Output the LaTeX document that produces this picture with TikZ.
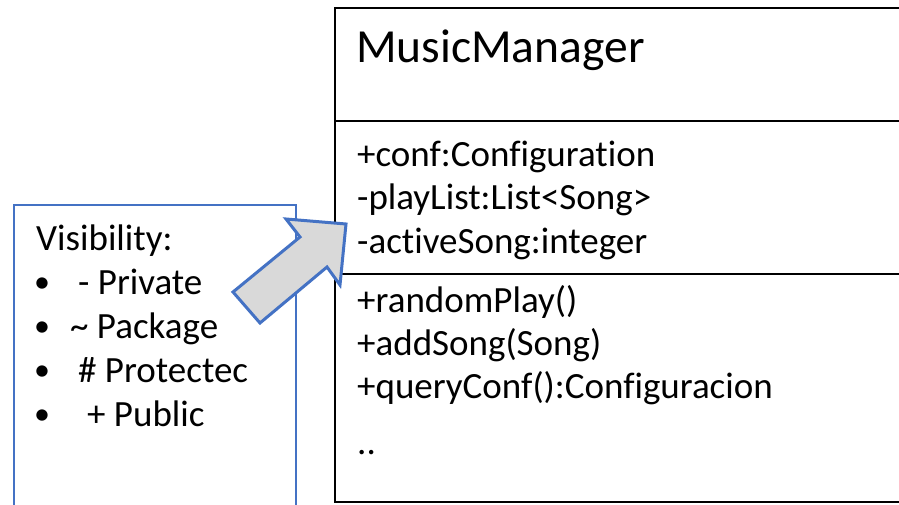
\documentclass[tikz,border=0pt]{standalone}
\usepackage{fontspec}
\setmainfont{Carlito}[RawFeature={-liga;-dlig}]
\definecolor{blueline}{HTML}{4472C4}
\definecolor{arrowfill}{HTML}{D9D9D9}
\begin{document}
\begin{tikzpicture}[x=1pt,y=-1pt,
  txt/.style={anchor=base west,inner sep=0pt,font=\fontsize{37}{40}\selectfont},
  title/.style={anchor=base west,inner sep=0pt,font=\fontsize{47.5}{52}\selectfont},
  umlline/.style={line width=2.5pt,black},
  legendline/.style={line width=1.3pt,blueline},
  blockarrow/.style={line width=3pt,blueline,fill=arrowfill,line join=miter}]
\useasboundingbox (0,0) rectangle (899,505);
% main class box
\coordinate (tr) at (910,8);
\coordinate (tl) at (335,8);
\coordinate (bl) at (335,502);
\coordinate (br) at (910,502);
\draw[umlline] (tr) -- (tl) -- (bl) -- (br);
\coordinate (s1l) at (335,121);
\coordinate (s1r) at (910,121);
\coordinate (s2l) at (335,274);
\coordinate (s2r) at (910,274);
\draw[umlline] (s1l) -- (s1r);
\draw[umlline] (s2l) -- (s2r);
\node[title] (name) at (356,63) {MusicManager};
\node[txt] (a1) at (357,167) {+conf:Configuration};
\node[txt] (a2) at (357,210) {-playList:List<Song>};
\node[txt] (a3) at (357,253) {-activeSong:integer};
\node[txt] (m1) at (357,312) {+randomPlay()};
\node[txt] (m2) at (357,355) {+addSong(Song)};
\node[txt] (m3) at (357,398) {+queryConf():Configuracion};
\node[txt] (m4) at (357,454) {..};
% legend box
\coordinate (lbl) at (14,515);
\coordinate (ltl) at (14,205);
\coordinate (ltr) at (296,205);
\coordinate (lbr) at (296,515);
\draw[legendline] (lbl) -- (ltl) -- (ltr) -- (lbr);
\node[txt] (vis) at (36,250) {Visibility:};
\node[txt,font=\fontsize{32}{36}\selectfont] (b1) at (34,292) {\textbullet};
\node[txt,font=\fontsize{32}{36}\selectfont] (b2) at (34,336) {\textbullet};
\node[txt,font=\fontsize{32}{36}\selectfont] (b3) at (34,380) {\textbullet};
\node[txt,font=\fontsize{32}{36}\selectfont] (b4) at (34,424) {\textbullet};
\node[txt] (v1) at (78,294) {- Private};
\node[txt] (v2) at (70,338) {\textasciitilde{} Package};
\node[txt] (v3) at (78,382) {\# Protectec};
\node[txt] (v4) at (87,426) {+ Public};
% block arrow
\draw[blockarrow] (233,292) -- (300,237) -- (286,219) -- (346,224) -- (340,285) -- (327,267) -- (260,323) -- cycle;
\end{tikzpicture}
\end{document}
